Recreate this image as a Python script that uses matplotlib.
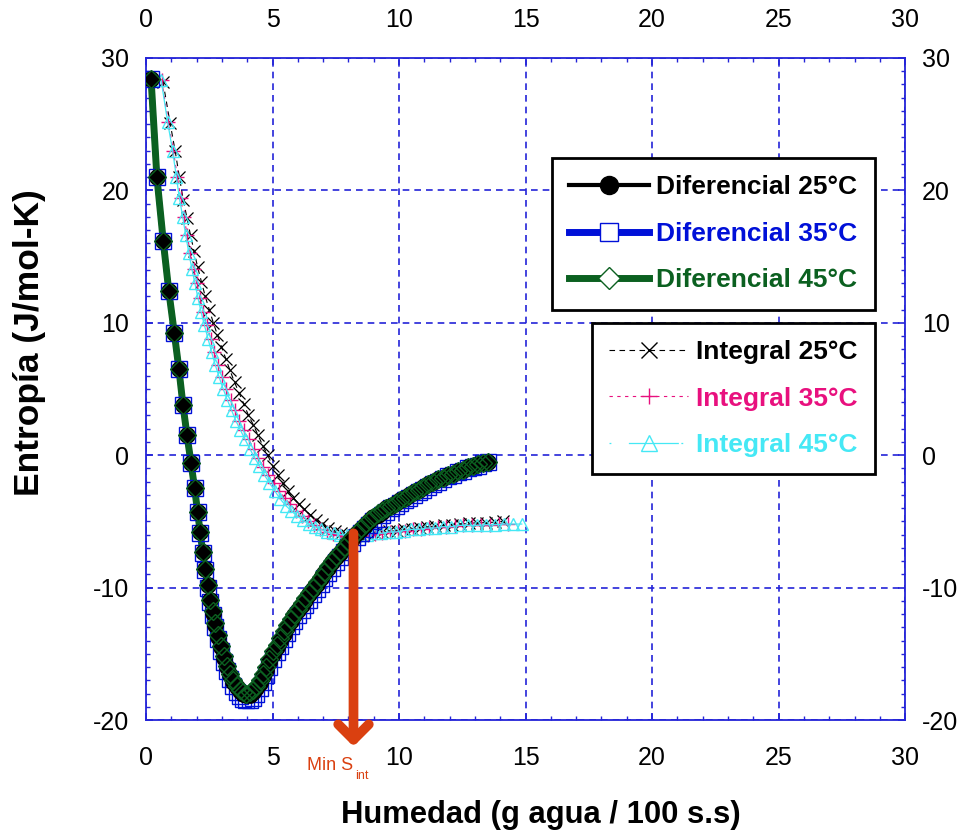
import matplotlib
matplotlib.use("Agg")
import matplotlib.pyplot as plt
from matplotlib.lines import Line2D
from matplotlib.ticker import MultipleLocator

plt.rcParams['font.family'] = ['Liberation Sans', 'DejaVu Sans']
plt.rcParams['axes.unicode_minus'] = False

# ---- data ----
dif_x = [0.20, 0.43, 0.68, 0.90, 1.12, 1.30, 1.46, 1.62, 1.78, 1.92,
         2.04, 2.14, 2.24, 2.34, 2.44, 2.54, 2.64, 2.74, 2.85, 2.96,
         3.08, 3.20, 3.32, 3.45, 3.58, 3.71, 3.84, 3.97, 4.10, 4.23,
         4.36, 4.49, 4.62, 4.75, 4.88, 5.02, 5.16, 5.30, 5.44, 5.58,
         5.72, 5.86, 6.00, 6.15, 6.30, 6.45, 6.60, 6.75, 6.90, 7.05,
         7.20, 7.36, 7.52, 7.68, 7.84, 8.00, 8.16, 8.32, 8.48, 8.65,
         8.82, 8.99, 9.16, 9.33, 9.50, 9.68, 9.86, 10.04, 10.22, 10.40,
         10.58, 10.77, 10.96, 11.15, 11.34, 11.53, 11.72, 11.92, 12.12, 12.32,
         12.52, 12.72, 12.92, 13.12, 13.32, 13.50]
dif_25 = [28.4, 21.0, 16.2, 12.4, 9.2, 6.5, 3.8, 1.5, -0.6, -2.5,
          -4.3, -5.8, -7.3, -8.6, -9.8, -10.9, -11.9, -12.8, -13.7, -14.5,
          -15.3, -16.0, -16.6, -17.1, -17.5, -17.8, -18.0, -18.1, -18.1, -17.9,
          -17.6, -17.2, -16.7, -16.2, -15.6, -15.0, -14.5, -14.0, -13.5, -13.0,
          -12.5, -12.1, -11.7, -11.3, -10.9, -10.5, -10.1, -9.7, -9.3, -8.9,
          -8.5, -8.1, -7.7, -7.4, -7.0, -6.6, -6.3, -5.9, -5.6, -5.3,
          -5.0, -4.7, -4.5, -4.3, -4.0, -3.8, -3.6, -3.4, -3.2, -3.0,
          -2.8, -2.6, -2.4, -2.2, -2.0, -1.8, -1.7, -1.5, -1.4, -1.2,
          -1.1, -0.9, -0.8, -0.7, -0.6, -0.5]
dif_35 = [28.4, 21.0, 16.2, 12.4, 9.2, 6.5, 3.8, 1.5, -0.6, -2.5,
          -4.3, -5.9, -7.4, -8.7, -10.0, -11.1, -12.1, -13.0, -13.9, -14.8,
          -15.6, -16.3, -16.9, -17.4, -17.9, -18.2, -18.4, -18.5, -18.5, -18.3,
          -18.0, -17.6, -17.1, -16.6, -16.0, -15.4, -14.9, -14.4, -13.9, -13.4,
          -12.9, -12.5, -12.1, -11.7, -11.3, -10.9, -10.5, -10.1, -9.7, -9.3,
          -8.9, -8.5, -8.1, -7.7, -7.3, -6.9, -6.6, -6.2, -5.9, -5.6,
          -5.3, -5.0, -4.8, -4.5, -4.3, -4.0, -3.8, -3.6, -3.4, -3.2,
          -3.0, -2.8, -2.6, -2.4, -2.2, -2.0, -1.8, -1.6, -1.5, -1.3,
          -1.2, -1.0, -0.9, -0.8, -0.6, -0.5]
dif_45 = [28.4, 21.0, 16.2, 12.4, 9.2, 6.5, 3.8, 1.5, -0.6, -2.5,
          -4.3, -5.8, -7.3, -8.6, -9.8, -10.9, -11.8, -12.7, -13.6, -14.4,
          -15.2, -15.9, -16.5, -17.0, -17.4, -17.7, -17.9, -18.0, -17.9, -17.7,
          -17.4, -17.0, -16.5, -16.0, -15.4, -14.8, -14.3, -13.8, -13.3, -12.8,
          -12.4, -12.0, -11.6, -11.2, -10.8, -10.4, -10.0, -9.6, -9.2, -8.8,
          -8.4, -8.0, -7.6, -7.3, -6.9, -6.5, -6.2, -5.8, -5.5, -5.2,
          -4.9, -4.7, -4.4, -4.2, -4.0, -3.8, -3.6, -3.4, -3.2, -3.0,
          -2.8, -2.6, -2.4, -2.2, -2.0, -1.8, -1.7, -1.5, -1.4, -1.2,
          -1.1, -0.9, -0.8, -0.7, -0.6, -0.5]

int_x_25 = [0.67, 0.95, 1.15, 1.32, 1.47, 1.62, 1.76, 1.90, 2.04, 2.19,
            2.34, 2.50, 2.66, 2.82, 2.98, 3.15, 3.32, 3.50, 3.68, 3.86,
            4.05, 4.24, 4.43, 4.62, 4.81, 5.00, 5.20, 5.40, 5.61, 5.82,
            6.04, 6.26, 6.49, 6.72, 6.96, 7.20, 7.45, 7.70, 7.96, 8.22,
            8.49, 8.76, 9.04, 9.32, 9.61, 9.90, 10.20, 10.50, 10.81, 11.12,
            11.44, 11.76, 12.09, 12.42, 12.76, 13.10, 13.45, 13.80, 14.10]
int_25 = [28.2, 25.1, 23.0, 21.0, 19.3, 17.9, 16.6, 15.4, 14.2, 13.1,
          12.0, 11.0, 10.0, 9.1, 8.2, 7.3, 6.4, 5.5, 4.7, 3.9,
          3.0, 2.3, 1.5, 0.7, 0.0, -0.8, -1.5, -2.1, -2.7, -3.2,
          -3.7, -4.1, -4.5, -4.9, -5.2, -5.5, -5.7, -5.9, -6.0, -6.05,
          -6.0, -5.95, -5.9, -5.8, -5.75, -5.7, -5.6, -5.55, -5.5, -5.4,
          -5.35, -5.3, -5.25, -5.2, -5.15, -5.1, -5.1, -5.05, -5.0]

int_x_35 = [0.62, 0.88, 1.08, 1.24, 1.37, 1.50, 1.63, 1.75, 1.88, 2.00,
            2.13, 2.27, 2.41, 2.55, 2.70, 2.85, 3.01, 3.17, 3.34, 3.51,
            3.69, 3.87, 4.06, 4.25, 4.44, 4.64, 4.84, 5.05, 5.26, 5.48,
            5.70, 5.93, 6.16, 6.40, 6.64, 6.89, 7.14, 7.40, 7.66, 7.93,
            8.20, 8.48, 8.76, 9.05, 9.34, 9.64, 9.94, 10.25, 10.56, 10.88,
            11.20, 11.53, 11.86, 12.20, 12.54, 12.89, 13.24, 13.60, 13.96, 14.32]
int_35 = [28.3, 25.2, 23.0, 21.0, 19.4, 18.0, 16.6, 15.3, 14.1, 13.0,
          11.9, 10.8, 9.8, 8.8, 7.8, 6.8, 5.9, 5.0, 4.2, 3.4,
          2.6, 1.9, 1.2, 0.5, -0.2, -0.9, -1.5, -2.1, -2.7, -3.2,
          -3.7, -4.2, -4.6, -5.0, -5.3, -5.6, -5.8, -5.95, -6.05, -6.1,
          -6.1, -6.05, -6.0, -5.95, -5.9, -5.8, -5.75, -5.7, -5.6, -5.55,
          -5.5, -5.45, -5.4, -5.35, -5.3, -5.3, -5.25, -5.25, -5.2, -5.2]

int_x_45 = [0.60, 0.85, 1.05, 1.20, 1.32, 1.45, 1.57, 1.69, 1.81, 1.93,
            2.05, 2.18, 2.31, 2.45, 2.59, 2.74, 2.89, 3.05, 3.21, 3.38,
            3.55, 3.73, 3.91, 4.10, 4.29, 4.48, 4.68, 4.88, 5.09, 5.30,
            5.52, 5.74, 5.97, 6.20, 6.44, 6.68, 6.92, 7.17, 7.42, 7.68,
            7.94, 8.20, 8.47, 8.74, 9.02, 9.30, 9.59, 9.88, 10.18, 10.48,
            10.79, 11.10, 11.42, 11.74, 12.07, 12.40, 12.74, 13.08, 13.43, 13.78,
            14.14, 14.50, 14.85]
int_45 = [28.3, 25.2, 23.0, 21.0, 19.4, 18.0, 16.6, 15.3, 14.1, 13.0,
          11.9, 10.8, 9.8, 8.8, 7.8, 6.8, 5.9, 5.0, 4.2, 3.4,
          2.6, 1.9, 1.2, 0.5, -0.2, -0.8, -1.5, -2.1, -2.7, -3.3,
          -3.8, -4.2, -4.6, -4.9, -5.2, -5.4, -5.6, -5.8, -5.9, -6.0,
          -6.05, -6.05, -6.0, -6.0, -5.9, -5.9, -5.8, -5.8, -5.7, -5.6,
          -5.6, -5.5, -5.5, -5.4, -5.4, -5.3, -5.3, -5.3, -5.25, -5.25,
          -5.2, -5.2, -5.2]

min_s_int = (8.2, -5.9)

# colours
c_blk = 'black'
c_blu = '#0010D8'
c_grn = '#0B6020'
c_pnk = '#E8107E'
c_cyn = '#45E8F5'
c_arr = '#DA4010'
c_grid = '#2424D8'

fig = plt.figure(figsize=(9.67, 8.38), dpi=100)
ax = fig.add_axes([0.151, 0.1408, 0.785, 0.79])

# integral curves (behind)
ax.plot(int_x_25, int_25, color=c_blk, lw=0.8, ls=(0, (5, 4)), marker='x',
        ms=9, mew=0.9, zorder=3)
ax.plot(int_x_35, int_35, color=c_pnk, lw=0.8, ls=(0, (3, 4)), marker='+',
        ms=10, mew=1.0, zorder=3)
ax.plot(int_x_45, int_45, color=c_cyn, lw=0.9, ls='-', marker='^',
        ms=9, mfc='none', mew=1.0, zorder=3)

# differential curves: lines, then markers on top
ax.plot(dif_x, dif_35, color=c_blu, lw=4, zorder=4)
ax.plot(dif_x, dif_25, color=c_blk, lw=3, zorder=4)
ax.plot(dif_x, dif_45, color=c_grn, lw=5, zorder=4)
ax.plot(dif_x, dif_35, ls='none', marker='s', ms=12, mfc='none',
        mec=c_blu, mew=1.0, zorder=5)
ax.plot(dif_x, dif_25, ls='none', marker='o', ms=11, color=c_blk, zorder=5)
ax.plot(dif_x, dif_45, ls='none', marker='D', ms=9, mfc='none',
        mec=c_grn, mew=1.0, zorder=5)

# arrow pointing to the minimum of the integral entropy
ax.annotate('', xy=(min_s_int[0], -22.0), xytext=min_s_int,
            arrowprops=dict(arrowstyle='->, head_length=1.1, head_width=1.1',
                            color=c_arr, lw=7, shrinkA=0, shrinkB=0),
            annotation_clip=False, zorder=6)
ax.text(7.28, -23.45, 'Min S', color=c_arr, fontsize=13,
        ha='center', va='center', clip_on=False)
ax.text(8.55, -24.2, 'int', color=c_arr, fontsize=9,
        ha='center', va='center', clip_on=False)

ax.set_xlim(0, 30)
ax.set_ylim(-20, 30)
ax.xaxis.set_major_locator(MultipleLocator(5))
ax.yaxis.set_major_locator(MultipleLocator(10))
ax.xaxis.set_minor_locator(MultipleLocator(1))
ax.yaxis.set_minor_locator(MultipleLocator(1))
ax.tick_params(which='both', direction='in', colors=c_grid, labelcolor='black',
               top=True, right=True, labeltop=True, labelright=True)
ax.tick_params(which='major', length=5, width=1.2, labelsize=18, pad=12)
ax.tick_params(axis='x', which='major', pad=19)
ax.tick_params(which='minor', length=3, width=1.0)
ax.grid(True, which='major', color=c_grid, ls=(0, (4, 3)), lw=1.2)
for sp in ax.spines.values():
    sp.set_color(c_grid)
    sp.set_linewidth(1.3)

# axis titles placed as in the original (slightly off-centre)
fig.text(541 / 967, 1 - 815 / 838, 'Humedad (g agua / 100 s.s)', fontsize=22.3,
         fontweight='bold', ha='center', va='center')
fig.text(30 / 967, 1 - 343 / 838, 'Entropía (J/mol-K)', fontsize=25.5,
         fontweight='bold', rotation=90, ha='center', va='center')

# legends
h_dif = [
    Line2D([], [], color=c_blk, lw=3, marker='o', ms=13),
    Line2D([], [], color=c_blu, lw=5, marker='s', ms=13, mfc='white', mec=c_blu, mew=1.0),
    Line2D([], [], color=c_grn, lw=5, marker='D', ms=11, mfc='white', mec=c_grn, mew=1.0),
]
lab_dif = ['Diferencial 25°C', 'Diferencial 35°C', 'Diferencial 45°C']
leg1 = ax.legend(h_dif, lab_dif, loc='upper right', bbox_to_anchor=(0.960, 0.849),
                 borderaxespad=0, prop={'weight': 'bold', 'size': 19},
                 fancybox=False, framealpha=1, edgecolor='black',
                 handlelength=3.0, handletextpad=0.3, labelspacing=0.86,
                 borderpad=0.65, labelcolor=[c_blk, c_blu, c_grn])
leg1.get_frame().set_linewidth(2)
ax.add_artist(leg1)

h_int = [
    Line2D([], [], color=c_blk, lw=0.8, ls=(0, (5, 4)), marker='x', ms=12, mew=1.0),
    Line2D([], [], color=c_pnk, lw=0.8, ls=(0, (3, 4)), marker='+', ms=12, mew=1.0),
    Line2D([], [], color=c_cyn, lw=0.9, ls=(0, (1.5, 14, 40, 2)), marker='^',
           ms=11, mfc='none', mew=1.0),
]
lab_int = ['Integral 25°C', 'Integral 35°C', 'Integral 45°C']
leg2 = ax.legend(h_int, lab_int, loc='upper right', bbox_to_anchor=(0.960, 0.600),
                 borderaxespad=0, prop={'weight': 'bold', 'size': 19},
                 fancybox=False, framealpha=1, edgecolor='black',
                 handlelength=3.0, handletextpad=0.3, labelspacing=0.86,
                 borderpad=0.65, labelcolor=[c_blk, c_pnk, c_cyn])
leg2.get_frame().set_linewidth(2)
leg1.set_zorder(7)
leg2.set_zorder(7)

fig.savefig('out.png', dpi=100)
